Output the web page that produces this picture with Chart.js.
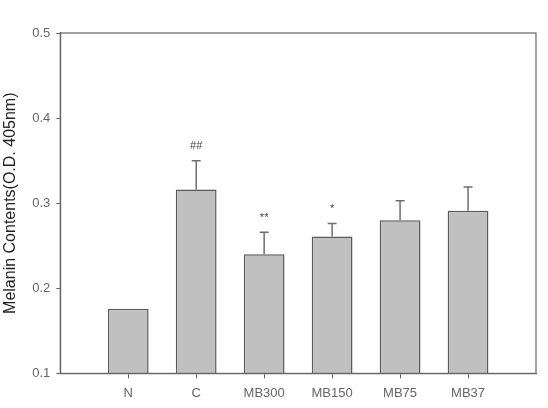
<!DOCTYPE html>
<html>
<head>
<meta charset="utf-8">
<script src="https://cdn.jsdelivr.net/npm/chart.js@4"></script>
<style>
  body { margin: 0; background: #fff; }
  #wrap { width: 548px; height: 408px; }
</style>
</head>
<body>
<div id="wrap"><canvas id="chart"></canvas></div>
<script>
const categories = ["N", "C", "MB300", "MB150", "MB75", "MB37"];
const means = [0.176, 0.316, 0.240, 0.261, 0.280, 0.291];
const errors = [0, 0.034, 0.026, 0.015, 0.023, 0.028];
const marks = ["", "##", "**", "*", "", ""];
const yTicks = [0.1, 0.2, 0.3, 0.4, 0.5];

// one empty slot each side so the bars sit like in the original plot
const labels = ["", ...categories, ""];
const values = [null, ...means, null];

const axisGray = "#666";
const font = "Liberation Sans, Arial, sans-serif";

const frameAndErrors = {
  id: "frameAndErrors",
  afterDatasetsDraw(chart) {
    const { ctx, chartArea, scales } = chart;
    const meta = chart.getDatasetMeta(0);
    ctx.save();
    ctx.strokeStyle = "#6e6e6e";
    ctx.lineWidth = 1.5;
    means.forEach((m, i) => {
      const bar = meta.data[i + 1];
      const x = bar.x;
      const yTop = scales.y.getPixelForValue(m + errors[i]);
      if (errors[i] > 0) {
        ctx.beginPath();
        ctx.moveTo(x, bar.y);
        ctx.lineTo(x, yTop);
        ctx.moveTo(x - 4.5, yTop);
        ctx.lineTo(x + 4.5, yTop);
        ctx.stroke();
      }
      if (marks[i]) {
        ctx.fillStyle = "#444";
        ctx.font = "11px " + font;
        ctx.textAlign = "center";
        ctx.textBaseline = "bottom";
        ctx.fillText(marks[i], x, yTop - 9);
      }
    });
    ctx.strokeStyle = axisGray;
    ctx.lineWidth = 1.2;
    ctx.strokeRect(chartArea.left, chartArea.top, chartArea.right - chartArea.left, chartArea.bottom - chartArea.top);
    ctx.restore();
  }
};

new Chart(document.getElementById("chart"), {
  type: "bar",
  data: {
    labels: labels,
    datasets: [{
      data: values,
      backgroundColor: "#c0c0c0",
      borderColor: "#5a5a5a",
      borderWidth: 1.5,
      categoryPercentage: 1,
      barPercentage: 0.6
    }]
  },
  options: {
    responsive: true,
    maintainAspectRatio: false,
    animation: false,
    layout: { padding: { top: 33, right: 12, left: 0, bottom: 0 } },
    plugins: { legend: { display: false }, tooltip: { enabled: false } },
    scales: {
      x: {
        offset: false,
        grid: {
          offset: false,
          drawOnChartArea: false,
          tickLength: 5,
          tickColor: (c) => (c.index === 0 || c.index === labels.length - 1 ? "rgba(0,0,0,0)" : axisGray)
        },
        border: { color: axisGray, width: 1.2 },
        ticks: { color: "#666", font: { family: font, size: 13 }, maxRotation: 0, autoSkip: false, padding: 7 }
      },
      y: {
        min: 0.1,
        max: 0.5,
        afterBuildTicks: (axis) => { axis.ticks = yTicks.map((v) => ({ value: v })); },
        grid: { drawOnChartArea: false, tickLength: 4, tickColor: axisGray },
        border: { color: axisGray, width: 1.2 },
        ticks: { color: "#666", font: { family: font, size: 13 }, padding: 6, callback: (v) => v.toFixed(1) },
        title: {
          display: true,
          text: "Melanin Contents(O.D. 405nm)",
          color: "#222",
          font: { family: font, size: 16 },
          padding: { top: 1, bottom: 6 }
        }
      }
    }
  },
  plugins: [frameAndErrors]
});
</script>
</body>
</html>
